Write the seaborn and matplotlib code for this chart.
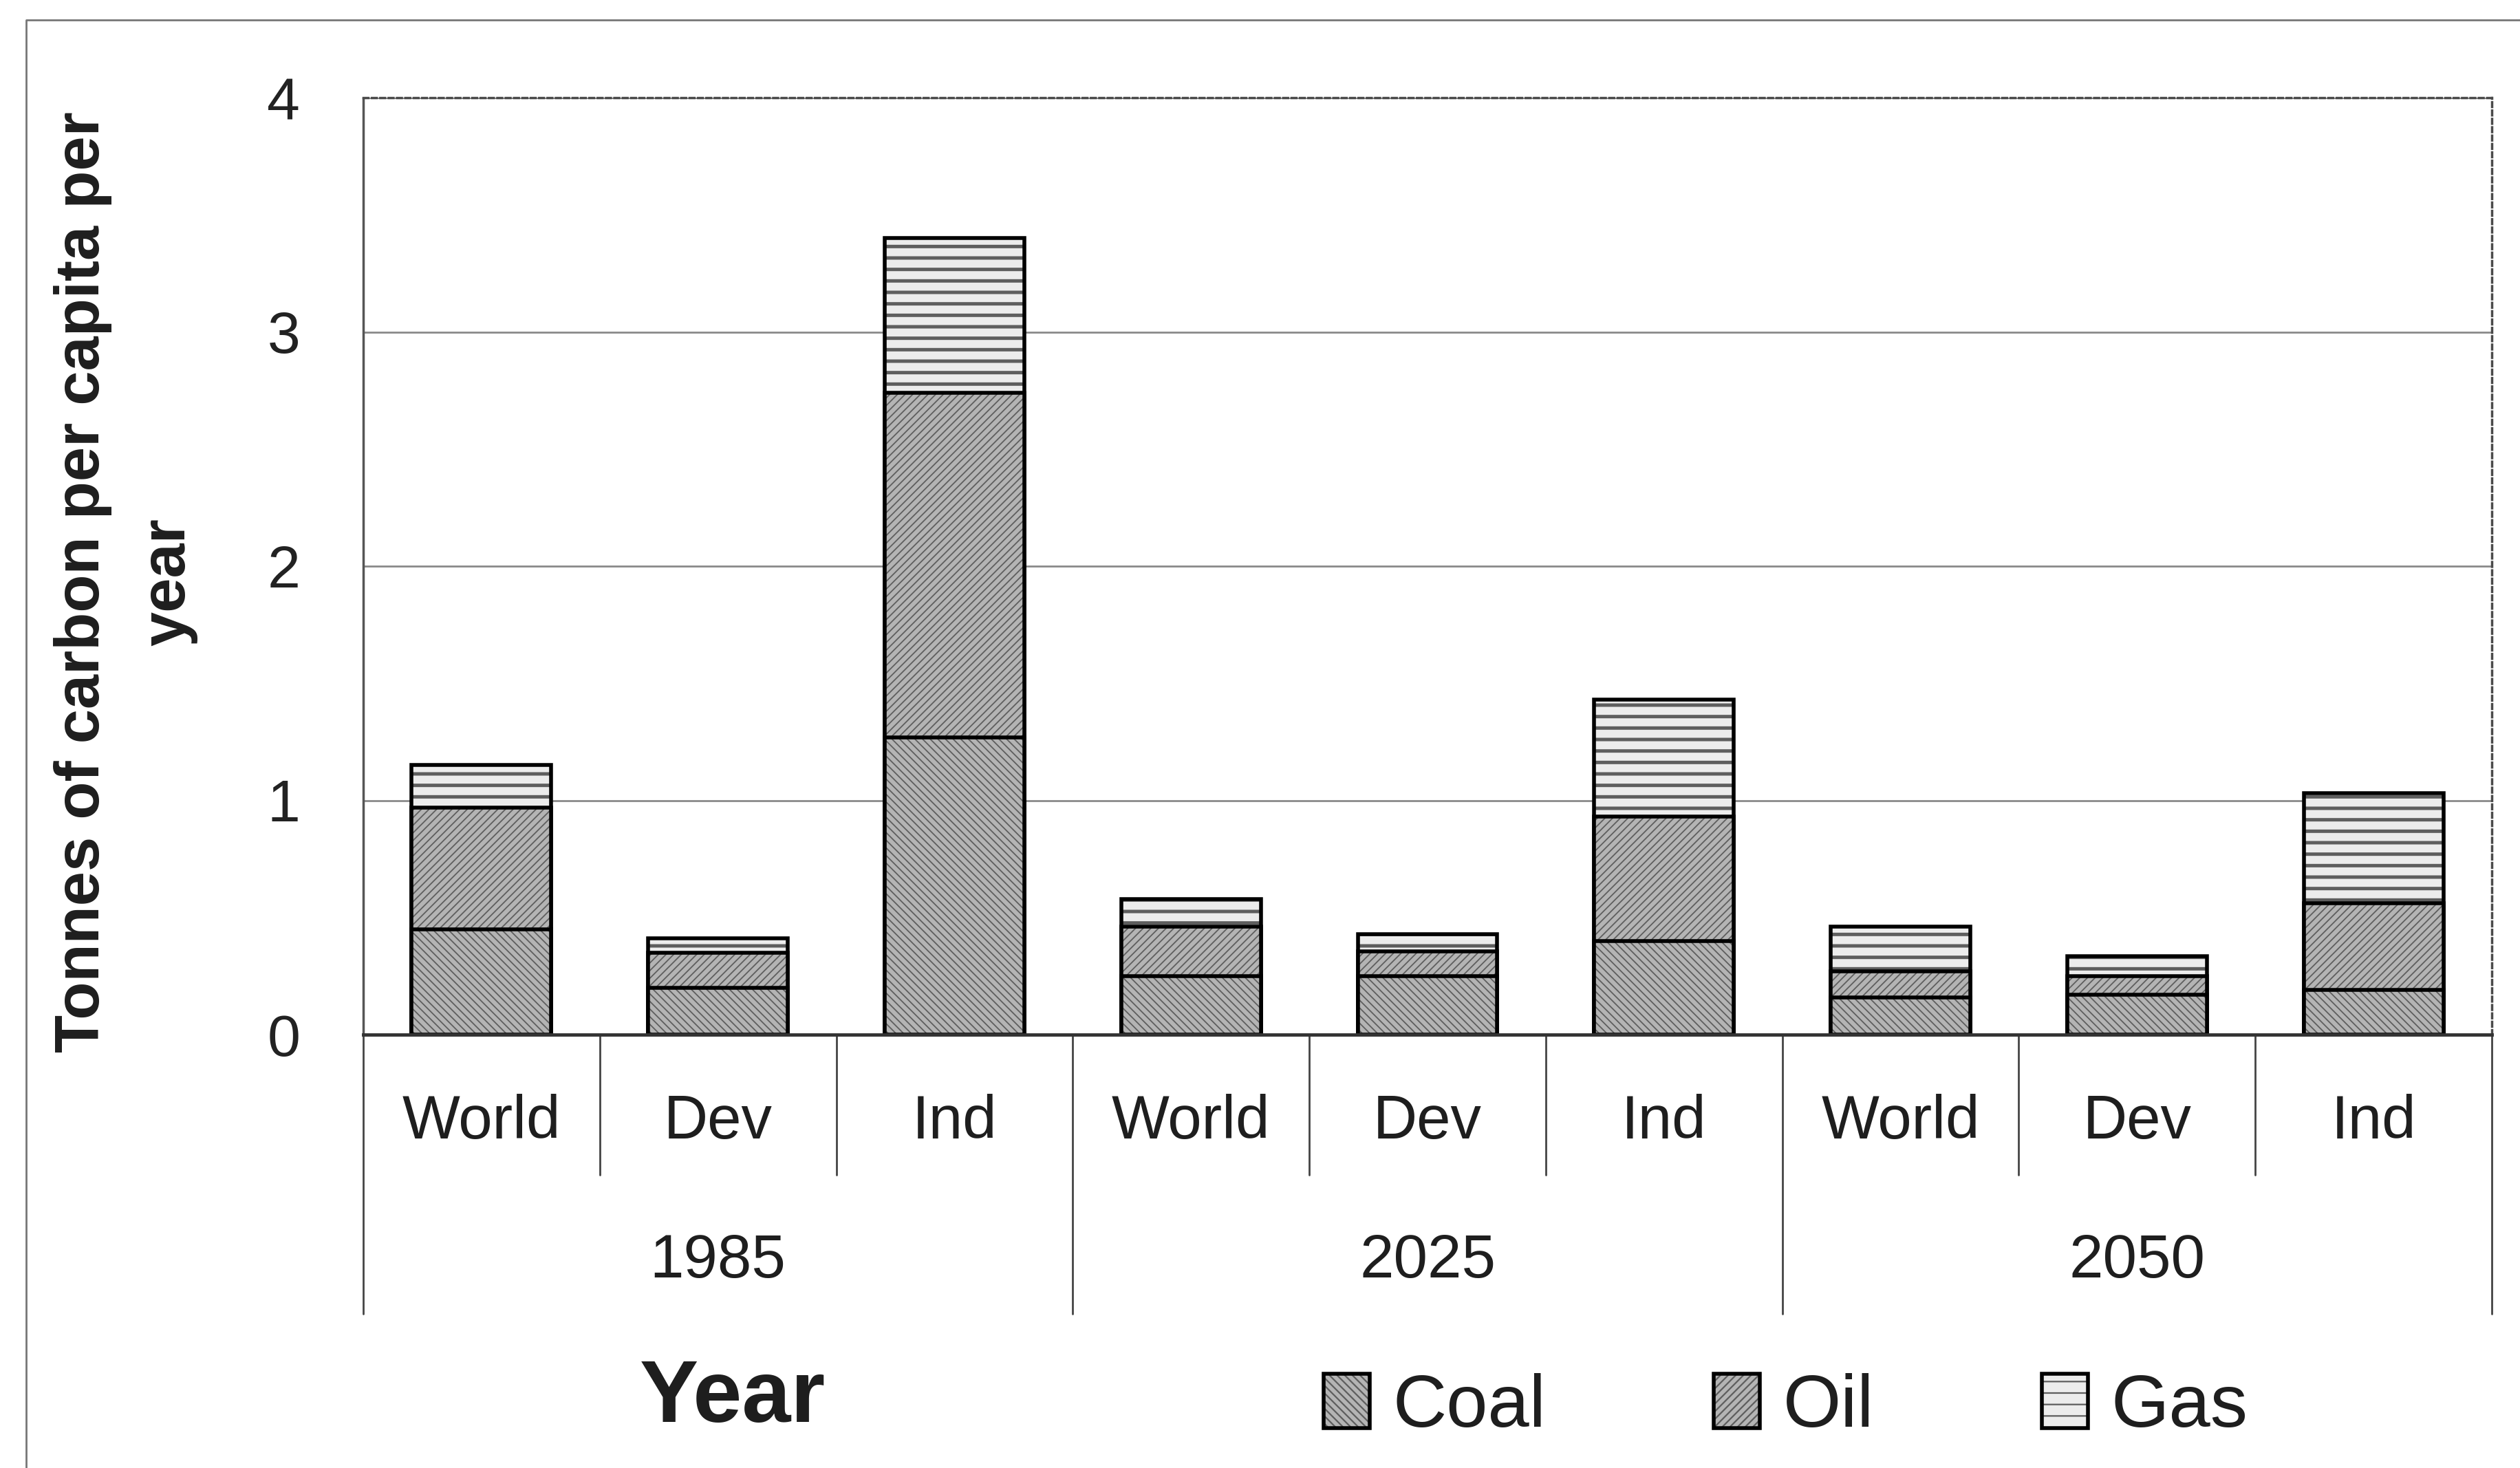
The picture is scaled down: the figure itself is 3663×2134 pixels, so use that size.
import pandas as pd
import seaborn as sns
import matplotlib.pyplot as plt
import matplotlib.patches as mpatches
from matplotlib.colors import to_rgba
from matplotlib.lines import Line2D
from matplotlib.transforms import blended_transform_factory

# Values (tonnes of carbon per capita per year)
years = ['1985', '2025', '2050']
regions = ['World', 'Dev', 'Ind']
coal = [0.45, 0.20, 1.27, 0.25, 0.25, 0.40, 0.16, 0.17, 0.19]
oil = [0.52, 0.15, 1.47, 0.21, 0.105, 0.53, 0.11, 0.08, 0.37]
gas = [0.18, 0.06, 0.66, 0.12, 0.075, 0.50, 0.19, 0.085, 0.47]
fuels = ['Coal', 'Oil', 'Gas']
yticks = [0, 1, 2, 3, 4]

W, H = 3663, 2134

sns.set_style('white')
plt.rcParams.update({
    'font.family': ['Liberation Sans', 'DejaVu Sans'],
    'hatch.linewidth': 1.6,
    'text.color': '#1e1e1e',
})

keys = [f'{y} {r}' for y in years for r in regions]
df = pd.DataFrame({'key': keys, 'coal': coal, 'oil': oil, 'gas': gas})
df['coal_top'] = df['coal']
df['oil_top'] = df['coal'] + df['oil']
df['gas_top'] = df['oil_top'] + df['gas']

fig = plt.figure(figsize=(W / 100, H / 100), dpi=100)
ax = fig.add_axes([528 / W, 1 - 1504 / H, (3622 - 528) / W, (1504 - 142) / H])

styles = {
    'Gas': dict(face='#ececec', hatch='-', hcolor='#5e5e5e', hlw=3.6),
    'Oil': dict(face='#b4b4b4', hatch='///', hcolor='#5e5e5e', hlw=1.3),
    'Coal': dict(face='#b4b4b4', hatch='\\\\\\', hcolor='#5e5e5e', hlw=1.3),
}


def style_patch(p, st):
    p.set_facecolor(st['face'])
    p.set_edgecolor('black')
    p.set_linewidth(4)
    p.set_hatch(st['hatch'])
    if hasattr(p, 'set_hatchcolor'):
        p.set_hatchcolor(st['hcolor'])
    else:
        p._hatch_color = to_rgba(st['hcolor'])
    if hasattr(p, 'set_hatch_linewidth'):
        p.set_hatch_linewidth(st['hlw'])
    elif hasattr(p, '_hatch_linewidth'):
        p._hatch_linewidth = st['hlw']


# stacked bars: draw cumulative totals, tallest first
for col, fuel in [('gas_top', 'Gas'), ('oil_top', 'Oil'), ('coal_top', 'Coal')]:
    n0 = len(ax.patches)
    sns.barplot(data=df, x='key', y=col, order=keys, color='white', saturation=1,
                width=0.59, errorbar=None, ax=ax)
    for p in ax.patches[n0:]:
        style_patch(p, styles[fuel])

ax.set_xlim(-0.5, len(keys) - 0.5)
ax.set_ylim(0, 4)
ax.set_yticks(yticks)
ax.set_xticks([])
ax.set_axisbelow(True)
ax.yaxis.grid(True, color='#8a8a8a', linewidth=2)
for t in ax.yaxis.get_major_ticks():
    if t.get_loc() in (0, 4):
        t.gridline.set_visible(False)

ax.tick_params(axis='y', length=26, width=2, color='#777777', pad=40,
               labelsize=62, labelcolor='#222222')

for side in ['top', 'right']:
    ax.spines[side].set_linestyle((0, (2, 1.5)))
    ax.spines[side].set_color('#4a4a4a')
    ax.spines[side].set_linewidth(2.5)
ax.spines['left'].set_color('#555555')
ax.spines['left'].set_linewidth(2.5)
ax.spines['left'].set_linestyle((0, (2, 1)))
ax.spines['bottom'].set_color('#333333')
ax.spines['bottom'].set_linewidth(3.5)

# two-level category axis
trans = blended_transform_factory(ax.transData, ax.transAxes)
for i in range(len(keys) + 1):
    xb = i - 0.5
    ybot = -0.298 if i % 3 == 0 else -0.1498
    ax.plot([xb, xb], [0, ybot], transform=trans, clip_on=False,
            color='#444444', linewidth=2)
for i, k in enumerate(keys):
    ax.text(i, -0.094, k.split(' ')[1], transform=trans, ha='center', va='center',
            fontsize=64, color='#1e1e1e')
for g, y in enumerate(years):
    ax.text(g * 3 + 1, -0.242, y, transform=trans, ha='center', va='center',
            fontsize=64, color='#1e1e1e')

ax.set_ylabel('Tonnes of carbon per capita per\nyear', fontsize=65, fontweight='bold',
              linespacing=1.6, va='center', ha='center', color='#1e1e1e')
ax.yaxis.set_label_coords(-0.1115, 0.483)
ax.set_xlabel('Year', fontsize=92, fontweight='bold', va='center', color='#1e1e1e')
ax.xaxis.set_label_coords(0.1736, -0.389)

handles = []
for fuel in fuels:
    h = mpatches.Patch()
    style_patch(h, styles[fuel])
    handles.append(h)
fig.legend(handles, fuels, loc='center left', bbox_to_anchor=(1924 / W, 1 - 2046 / H),
           ncol=3, frameon=False, fontsize=78, handlelength=0.62, handleheight=0.74,
           handletextpad=0.31, columnspacing=2.25, borderpad=0, borderaxespad=0)

# chart area border (runs off the right and bottom edges)
fig.add_artist(Line2D([38 / W, 38 / W, 1.0], [0.0, 1 - 29 / H, 1 - 29 / H],
                      transform=fig.transFigure, color='#777777', linewidth=2))

fig.savefig('out.png', dpi=100, facecolor='white')
